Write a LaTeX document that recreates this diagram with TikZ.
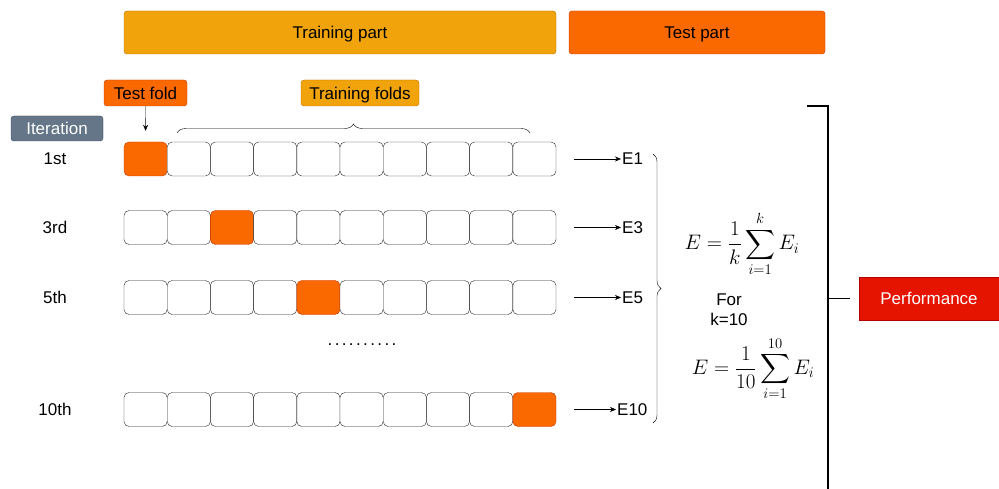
\RequirePackage{fix-cm}
\documentclass[tikz,border=0pt]{standalone}
\usepackage{amsmath}
\usepackage[no-math]{fontspec}
\setmainfont{Liberation Sans}
\usetikzlibrary{decorations.pathreplacing,arrows.meta}
\definecolor{trainc}{HTML}{F0A30A}
\definecolor{trainb}{HTML}{BD7000}
\definecolor{testc}{HTML}{FA6800}
\definecolor{testb}{HTML}{C73500}
\definecolor{iterc}{HTML}{647687}
\definecolor{iterb}{HTML}{314354}
\definecolor{perfc}{HTML}{E51400}
\definecolor{perfb}{HTML}{B20000}
\tikzset{
  tag/.style={rounded corners=3pt,inner sep=0pt,text=black,text height=12.2pt,text depth=0pt},
  fold/.style={draw=black!85,rounded corners=5pt,minimum width=43.2pt,minimum height=34pt,inner sep=0pt},
  arr/.style={-{Stealth[length=6pt,width=5pt]},thin}
}
\begin{document}
\begin{tikzpicture}[x=1pt,y=-1pt,font=\fontsize{17}{20}\selectfont]
	\useasboundingbox (0,0) rectangle (999,489);
	\node[tag,fill=trainc,draw=trainb,minimum width=432pt,minimum height=43pt] (trainpart) at (340,32.5) {Training part};
	\node[tag,fill=testc,draw=testb,minimum width=256pt,minimum height=43pt] (testpart) at (697,32.5) {Test part};
	\node[tag,fill=testc,draw=testb,minimum width=83pt,minimum height=26pt] (tfold) at (145.5,93) {Test fold};
	\node[tag,fill=trainc,draw=trainb,minimum width=118pt,minimum height=26pt] (trfolds) at (360,93) {Training folds};
	\node[tag,fill=iterc,draw=iterb,text=white,minimum width=92pt,minimum height=25pt] (iter) at (57,128.5) {Iteration};

	\foreach \r/\yc/\lab/\ex in {1/159/1st/621,3/227.5/3rd/621,5/297.5/5th/621,10/409.5/10th/616} {
		\node (it\r) at (55,\yc) {\lab};
		\foreach \c in {1,...,10} {
			\ifnum\c=\r \def\fc{testc}\def\bc{testb}\else\def\fc{white}\def\bc{black!85}\fi
			\node[fold,fill=\fc,draw=\bc] (f\r-\c) at ({124+43.2*(\c-0.5)},\yc) {};
		}
		\node[anchor=west,inner sep=1pt] (E\r) at (\ex,\yc) {E\r};
		\draw[arr] ([xshift=18pt]f\r-10.east) -- (E\r.west);
	}
	\node (dots) at (362,345) {\addfontfeature{LetterSpace=14}..........};

	\draw[arr] (tfold.south) -- ([yshift=11pt]f1-1.north);
	\draw[decorate,decoration={brace,amplitude=9pt}] (177,133) -- (530,133);
	\draw[decorate,decoration={brace,amplitude=8pt}] (653,154) -- (653,423);

	\node (avg) at (742,244) {\fontsize{21}{25}\selectfont$\displaystyle E=\frac{1}{k}\sum_{i=1}^{k}E_i$};
	\node[align=center,inner sep=0pt] (fork) at (729,310) {For\\k=10};
	\node (avg10) at (753,369) {\fontsize{21}{25}\selectfont$\displaystyle E=\frac{1}{10}\sum_{i=1}^{10}E_i$};

	\node[tag,fill=perfc,draw=perfb,text=white,rounded corners=0pt,minimum width=140pt,minimum height=43pt] (perf) at (929,298.5) {Performance};
	\coordinate (brtop) at (807,106);
	\coordinate (brbot) at (828,489);
	\coordinate (brmid) at (828,298.5);
	\draw[line width=1.8pt] (brtop) -- (828,106) -- (brbot);
	\draw[line width=1.5pt] (brmid) -- ([xshift=-9pt]perf.west);
\end{tikzpicture}
\end{document}
